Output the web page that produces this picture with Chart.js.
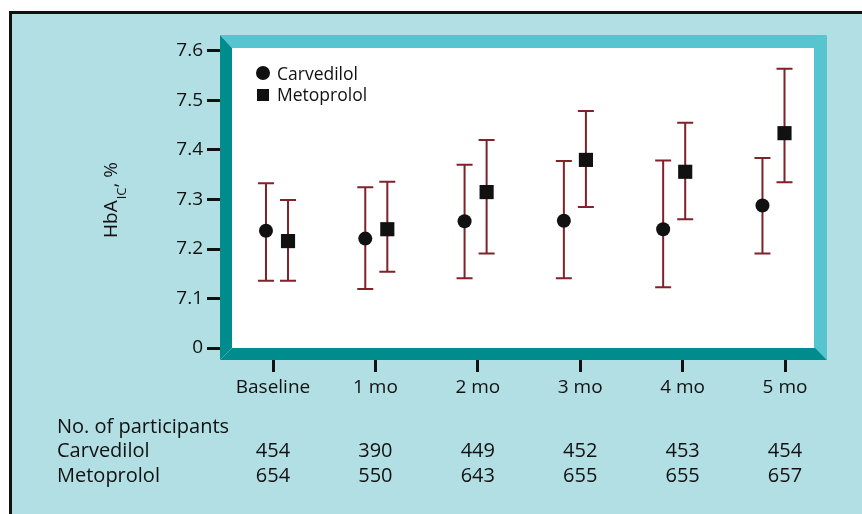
<!DOCTYPE html>
<html>
<head>
  <title>HbA1c - Carvedilol vs Metoprolol</title>
  <script src="https://cdn.jsdelivr.net/npm/chart.js"></script>
  <style>
    body { margin: 0; background: #fff; }
    .wrap { width: 862px; height: 514px; }
  </style>
</head>
<body>
  <div class="wrap"><canvas id="hbaChart"></canvas></div>

  <script>
    const months = ['Baseline', '1 mo', '2 mo', '3 mo', '4 mo', '5 mo'];
    const yTicks = [7.0, 7.1, 7.2, 7.3, 7.4, 7.5, 7.6];
    const yTickLabels = ['0', '7.1', '7.2', '7.3', '7.4', '7.5', '7.6'];

    const carvedilol = [7.237, 7.221, 7.256, 7.257, 7.240, 7.288];
    const carvedilolHigh = [7.333, 7.325, 7.370, 7.378, 7.379, 7.384];
    const carvedilolLow = [7.136, 7.119, 7.141, 7.141, 7.123, 7.191];

    const metoprolol = [7.216, 7.240, 7.315, 7.380, 7.356, 7.434];
    const metoprololHigh = [7.299, 7.336, 7.420, 7.479, 7.455, 7.564];
    const metoprololLow = [7.136, 7.154, 7.191, 7.285, 7.260, 7.335];

    const carvedilolN = [454, 390, 449, 452, 453, 454];
    const metoprololN = [654, 550, 643, 655, 655, 657];

    const FONT = '"Open Sans", "DejaVu Sans", sans-serif';
    const INK = '#111';
    const BAR_RED = '#7d2329';
    const pairOffset = 0.111;

    // background, outer border, y title and participants table
    const decorPlugin = {
      id: 'decor',
      beforeDraw(chart) {
        const ctx = chart.ctx;
        ctx.save();
        ctx.fillStyle = '#fff';
        ctx.fillRect(0, 0, chart.width, chart.height);
        ctx.fillStyle = '#b1dfe4';
        ctx.fillRect(12, 14, chart.width - 12, chart.height - 14);
        ctx.fillStyle = INK;
        ctx.fillRect(9, 11, chart.width - 9, 3);
        ctx.fillRect(9, 11, 3, chart.height - 11);

        // y title: HbA_IC, %
        ctx.save();
        ctx.translate(117, 238);
        ctx.rotate(-Math.PI / 2);
        ctx.fillStyle = INK;
        ctx.textBaseline = 'alphabetic';
        ctx.font = '19px ' + FONT;
        ctx.fillText('HbA', 0, 0);
        let w = ctx.measureText('HbA').width;
        ctx.font = '13px ' + FONT;
        ctx.fillText('IC', w + 1, 9);
        w += ctx.measureText('IC').width + 1;
        ctx.font = '19px ' + FONT;
        ctx.fillText(', %', w, 0);
        ctx.restore();

        // participants table
        const x = chart.scales.x;
        ctx.fillStyle = INK;
        ctx.font = '20px ' + FONT;
        ctx.textBaseline = 'alphabetic';
        ctx.textAlign = 'left';
        ctx.fillText('No. of participants', 57, 433);
        ctx.fillText('Carvedilol', 57, 457);
        ctx.fillText('Metoprolol', 57, 482);
        ctx.textAlign = 'center';
        months.forEach((m, i) => {
          const px = x.getPixelForValue(i);
          ctx.fillText(String(carvedilolN[i]), px, 457);
          ctx.fillText(String(metoprololN[i]), px, 482);
        });
        ctx.restore();
      },
      beforeDatasetsDraw(chart) {
        const ctx = chart.ctx;
        const a = chart.chartArea;
        const b = 12;
        ctx.save();
        ctx.fillStyle = '#fff';
        ctx.fillRect(a.left, a.top, a.right - a.left, a.bottom - a.top);
        const poly = (pts, color) => {
          ctx.beginPath();
          ctx.moveTo(pts[0][0], pts[0][1]);
          pts.slice(1).forEach(p => ctx.lineTo(p[0], p[1]));
          ctx.closePath();
          ctx.fillStyle = color;
          ctx.fill();
        };
        const L = a.left, R = a.right, T = a.top, B = a.bottom;
        poly([[L, T], [R, T], [R - b, T + b + 1], [L + b, T + b + 1]], '#56c5cf');
        poly([[R, T], [R, B], [R - b - 1, B - b], [R - b - 1, T + b]], '#56c5cf');
        poly([[L, B], [R, B], [R - b, B - b], [L + b, B - b]], '#008b8c');
        poly([[L, T], [L + b, T + b + 1], [L + b, B - b], [L, B]], '#008b8c');

        // error bars
        const y = chart.scales.y;
        const bounds = [[carvedilolLow, carvedilolHigh], [metoprololLow, metoprololHigh]];
        ctx.strokeStyle = BAR_RED;
        ctx.lineWidth = 2;
        chart.data.datasets.forEach((ds, d) => {
          chart.getDatasetMeta(d).data.forEach((pt, i) => {
            const y0 = y.getPixelForValue(bounds[d][0][i]);
            const y1 = y.getPixelForValue(bounds[d][1][i]);
            ctx.beginPath();
            ctx.moveTo(pt.x, y0); ctx.lineTo(pt.x, y1);
            ctx.moveTo(pt.x - 8, y0); ctx.lineTo(pt.x + 8, y0);
            ctx.moveTo(pt.x - 8, y1); ctx.lineTo(pt.x + 8, y1);
            ctx.stroke();
          });
        });
        ctx.restore();
      },
      afterDatasetsDraw(chart) {
        // legend inside the plot
        const ctx = chart.ctx;
        ctx.save();
        ctx.fillStyle = INK;
        ctx.beginPath();
        ctx.arc(263, 73, 7, 0, Math.PI * 2);
        ctx.fill();
        ctx.fillRect(257, 89, 12, 12);
        ctx.font = '17.5px ' + FONT;
        ctx.textBaseline = 'alphabetic';
        ctx.fillText(chart.data.datasets[0].label, 277, 80);
        ctx.fillText(chart.data.datasets[1].label, 277, 101);
        ctx.restore();
      }
    };

    new Chart(document.getElementById('hbaChart').getContext('2d'), {
      type: 'scatter',
      data: {
        datasets: [{
          label: 'Carvedilol',
          data: carvedilol.map((v, i) => ({ x: i - pairOffset, y: v })),
          xAxisID: 'xd',
          pointStyle: 'circle',
          pointRadius: 7,
          backgroundColor: INK,
          borderWidth: 0
        }, {
          label: 'Metoprolol',
          data: metoprolol.map((v, i) => ({ x: i + pairOffset, y: v })),
          xAxisID: 'xd',
          pointStyle: 'rect',
          pointRadius: 10,
          backgroundColor: INK,
          borderWidth: 0
        }]
      },
      options: {
        responsive: true,
        maintainAspectRatio: false,
        animation: false,
        layout: { padding: { left: 0, top: 35, right: 35, bottom: 0 } },
        plugins: { legend: { display: false }, tooltip: { enabled: false } },
        scales: {
          x: {
            type: 'linear',
            position: 'bottom',
            min: -0.5176,
            max: 5.41,
            afterBuildTicks: s => { s.ticks = months.map((m, i) => ({ value: i })); },
            afterFit: s => { s.height = 154; },
            ticks: {
              callback: (v, i) => months[i],
              font: { family: FONT, size: 19 },
              color: INK,
              padding: 4,
              maxRotation: 0,
              autoSkip: false
            },
            grid: { drawOnChartArea: false, tickLength: 12, tickWidth: 3, tickColor: INK },
            border: { display: false }
          },
          xd: { type: 'linear', display: false, min: -0.574, max: 5.539 },
          y: {
            min: 6.9758,
            max: 7.6323,
            afterBuildTicks: s => { s.ticks = yTicks.map(v => ({ value: v })); },
            afterFit: s => { s.width = 220; },
            ticks: {
              callback: (v, i) => yTickLabels[i],
              font: { family: FONT, size: 19 },
              color: INK,
              padding: 4
            },
            grid: { drawOnChartArea: false, tickLength: 13, tickWidth: 3, tickColor: INK },
            border: { display: false }
          }
        }
      },
      plugins: [decorPlugin]
    });
  </script>
</body>
</html>
